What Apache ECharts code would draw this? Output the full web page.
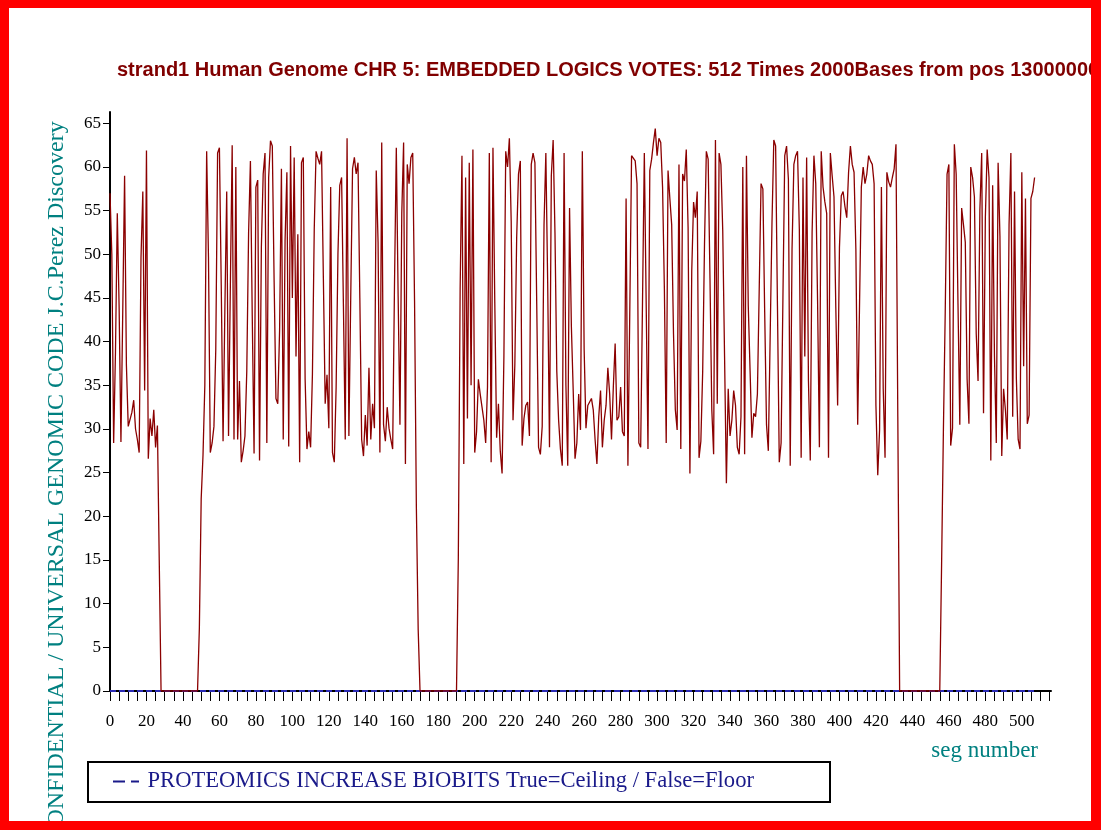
<!DOCTYPE html>
<html>
<head>
<meta charset="utf-8">
<script src="https://cdn.jsdelivr.net/npm/echarts@6/dist/echarts.min.js"></script>
<style>
  html, body { margin: 0; padding: 0; background: #fff; }
  #chart { width: 1101px; height: 830px; }
</style>
</head>
<body>
<div id="chart"></div>
<script>
// Votes per 2000-base segment (segment 0 .. 507)
const segVotes = [
  57, 50, 28.4, 38.8, 54.7, 44, 28.5, 43.6, 59, 37.3, 30.3, 30.5, 31.9, 33.3, 30, 28.8, 27.3, 49.6, 57.2, 34.4,
  61.9, 26.6, 31.2, 29.2, 32.2, 27.9, 30.4, 15, 0, 0, 0, 0, 0, 0, 0, 0, 0, 0, 0, 0,
  0, 0, 0, 0, 0, 0, 0, 0, 0, 7.2, 22, 27, 35, 61.8, 49.7, 27.3, 28.4, 30.3, 39.1, 61.6,
  62.2, 46.5, 28.6, 43.9, 57.2, 29.2, 46.5, 62.5, 28.8, 60, 28.8, 35.5, 26.2, 27.5, 29.2, 36.6, 52.5, 60.7, 43, 27.2,
  57.7, 58.5, 26.4, 50.8, 59.2, 61.6, 28.4, 58.8, 63, 62.4, 46.9, 33.5, 32.9, 41.3, 59.8, 28.8, 51.6, 59.4, 28, 62.4,
  45, 61.1, 38.3, 52.3, 26.2, 60.5, 61.1, 35.7, 27.7, 29.7, 27.9, 36.3, 52.9, 61.8, 61, 60.3, 61.8, 47.3, 32.9, 36.2,
  30.1, 57.7, 27.3, 26.2, 34.8, 50.1, 57.9, 58.8, 44.1, 28.8, 63.3, 29.2, 45, 59.8, 61.1, 59.2, 60.5, 45, 28.8, 26.9,
  31.6, 28.1, 37, 28.8, 32.9, 30.1, 59.6, 51.4, 27.3, 62.8, 30.5, 28.6, 32.5, 30.1, 28.8, 27.7, 46.5, 62.2, 45.2, 30.5,
  54.7, 62.8, 26, 60.3, 58.1, 61.1, 61.6, 44.7, 21, 7, 0, 0, 0, 0, 0, 0, 0, 0, 0, 0,
  0, 0, 0, 0, 0, 0, 0, 0, 0, 0, 0, 15.2, 46, 61.3, 26, 58.8, 31.2, 60.5, 35, 62,
  27.3, 29.7, 35.7, 34, 32.5, 31, 28.4, 34.8, 61.6, 26.2, 62.2, 44.5, 29, 32.9, 27.5, 24.9, 38.3, 61.8, 60, 63.3,
  53.8, 31, 37.4, 51.9, 59.2, 60.7, 28.1, 31.2, 32.7, 33.1, 29.2, 60.3, 61.6, 60.5, 44.3, 27.9, 27.1, 30.3, 53.4, 61.6,
  46.8, 27.9, 59, 63.1, 52.5, 36.6, 31, 27.7, 25.8, 61.6, 35, 25.8, 55.3, 41.7, 34.4, 26.6, 28.4, 34, 29.9, 61.8,
  39.1, 30.1, 32.7, 32.7, 33.5, 32.2, 28.8, 26, 31.4, 34.4, 27.9, 31, 32.7, 37, 34, 28.8, 34.8, 39.8, 31, 31.4,
  34.8, 29.7, 29.2, 56.4, 25.8, 43, 61.3, 61.1, 60.7, 58.1, 28.4, 27.9, 44.5, 61.6, 61.8, 27.7, 59.6, 60.9, 62.8, 64.4,
  61.3, 63.3, 62.8, 57.7, 46, 28.4, 59.6, 56.4, 53.4, 40.9, 32.2, 29.9, 60.3, 27.7, 59.2, 58.4, 62, 53.1, 24.9, 48.1,
  56, 54.2, 57.2, 26.7, 28.6, 36.6, 51.2, 61.8, 60.9, 47.3, 32.2, 27.1, 63.1, 32.9, 61.6, 60.3, 52.7, 38.3, 23.8, 34.6,
  29.2, 31, 34.4, 32.7, 27.9, 27.1, 31.4, 60, 27.1, 61.3, 44.1, 36.6, 29, 31.8, 31.4, 34, 46, 58.1, 57.5, 43.4,
  30.5, 27.5, 27.5, 53.6, 63.1, 62.4, 44.1, 26.2, 28.4, 45, 61.3, 62.4, 58.6, 25.8, 50.6, 60.3, 61.3, 61.8, 52.9, 26.7,
  58.8, 38.3, 61.1, 35.5, 26.4, 52.5, 61.3, 58.1, 44.7, 27.9, 61.8, 57.7, 56, 54.7, 26.7, 61.6, 59, 56.6, 43.9, 32.7,
  50.8, 56.7, 57.2, 55.5, 54.2, 59.4, 62.4, 60.3, 59.4, 50.6, 30.5, 44.1, 57.7, 60, 58.1, 59.2, 61.3, 60.7, 60.3, 58.1,
  32.7, 24.7, 29.9, 57.7, 34.6, 26.7, 59.4, 58.3, 57.7, 58.8, 59.8, 62.6, 31.4, 0, 0, 0, 0, 0, 0, 0,
  0, 0, 0, 0, 0, 0, 0, 0, 0, 0, 0, 0, 0, 0, 0, 0, 14.4, 29.9, 43.4, 59.2,
  60.3, 28.1, 30.1, 62.6, 59.2, 44.3, 30.5, 55.3, 53.4, 51.4, 35.7, 30.6, 60, 58.8, 56.6, 40.9, 35.5, 55.1, 61.6, 31.8,
  54.2, 62, 58.8, 26.4, 57.9, 38.3, 28.4, 60.5, 52.1, 26.9, 34.6, 32.2, 28.8, 53.4, 61.6, 31.4, 57.2, 35.8, 28.8, 27.7,
  59.4, 37.2, 56.4, 30.6, 31.6, 56.4, 57.2, 58.8
];

// Proteomics increase flag per segment: '1' = True (Ceiling), '0' = False (Floor)
const proteomicsFlags = [
  '0000000000000000000000000000000000000000000000000000000000000000',
  '0000000000000000000000000000000000000000000000000000000000000000',
  '0000000000000000000000000000000000000000000000000000000000000000',
  '0000000000000000000000000000000000000000000000000000000000000000',
  '0000000000000000000000000000000000000000000000000000000000000000',
  '0000000000000000000000000000000000000000000000000000000000000000',
  '0000000000000000000000000000000000000000000000000000000000000000',
  '000000000000000000000000000000000000000000000000000000000000'
].join('');

const CEILING = 65;
const FLOOR = 0;

const xLabelValues = [0, 20, 40, 60, 80, 100, 120, 140, 160, 180, 200, 220, 240, 260, 280,
  300, 320, 340, 360, 380, 400, 420, 440, 460, 480, 500];
const yTickValues = [0, 5, 10, 15, 20, 25, 30, 35, 40, 45, 50, 55, 60, 65];

const titleText = 'strand1 Human Genome CHR 5: EMBEDDED LOGICS VOTES: 512 Times 2000Bases from pos 13000000';
const yName = 'CONFIDENTIAL / UNIVERSAL GENOMIC CODE J.C.Perez Discovery';
const xName = 'seg number';
const legendName = 'PROTEOMICS INCREASE BIOBITS True=Ceiling / False=Floor';

// minor ticks every 5 segments along the bottom axis
const xTickValues = [];
for (let v = 0; v <= 515; v += 5) xTickValues.push(v);

const voteData = segVotes.map((v, i) => [i, v]);
const flagData = proteomicsFlags.split('').map((c, i) => [i, c === '1' ? CEILING : FLOOR]);

const serif = "'Liberation Serif', 'DejaVu Serif', serif";
const sans = "'Liberation Sans', Arial, sans-serif";

const chart = echarts.init(document.getElementById('chart'), null, { renderer: 'canvas' });

const option = {
  animation: false,
  backgroundColor: '#ffffff',
  title: {
    text: titleText,
    left: 117,
    top: 60,
    padding: 0,
    textStyle: { fontFamily: sans, fontWeight: 'bold', fontSize: 20, color: '#800000' }
  },
  grid: { left: 110, top: 112, right: 50, bottom: 139 },
  xAxis: {
    type: 'value',
    min: 0,
    max: 516,
    axisLine: { show: true, lineStyle: { color: '#000', width: 2 } },
    axisTick: { show: true, customValues: xTickValues, length: 10, lineStyle: { color: '#000', width: 1 } },
    axisLabel: {
      customValues: xLabelValues, margin: 22,
      fontFamily: serif, fontSize: 17, color: '#000'
    },
    splitLine: { show: false }
  },
  yAxis: {
    type: 'value',
    min: 0,
    max: 66.3,
    axisLine: { show: true, lineStyle: { color: '#000', width: 2 } },
    axisTick: { show: true, customValues: yTickValues, length: 7, lineStyle: { color: '#000', width: 1 } },
    axisLabel: {
      customValues: yTickValues, margin: 9,
      fontFamily: serif, fontSize: 17, color: '#000'
    },
    splitLine: { show: false }
  },
  legend: {
    data: [legendName],
    left: 113,
    top: 770,
    padding: 0,
    itemWidth: 29,
    itemHeight: 2,
    itemGap: 0,
    icon: 'path://M0,0H12V2H0Z M18,0H26V2H18Z',
    itemStyle: { color: '#1a1a8a' },
    textStyle: { fontFamily: serif, fontSize: 22.6, color: '#1a1a8a', padding: [0, 0, 0, 2] },
    z: 5
  },
  graphic: [
    {
      type: 'rect', z: 1,
      shape: { x: 88, y: 762, width: 742, height: 40 },
      style: { fill: '#fff', stroke: '#000', lineWidth: 2 }
    },
    {
      type: 'text', z: 2,
      x: 57, y: 482, rotation: Math.PI / 2,
      style: {
        text: yName, fontFamily: serif, fontSize: 24, fill: '#008080',
        align: 'center', verticalAlign: 'middle'
      }
    },
    {
      type: 'text', z: 2,
      x: 1038, y: 751,
      style: {
        text: xName, fontFamily: serif, fontSize: 23, fill: '#008080',
        align: 'right', verticalAlign: 'middle'
      }
    },
    // red frame round the page
    { type: 'rect', z: 100, shape: { x: 0, y: 0, width: 1101, height: 8 }, style: { fill: '#ff0000' } },
    { type: 'rect', z: 100, shape: { x: 0, y: 821, width: 1101, height: 9 }, style: { fill: '#ff0000' } },
    { type: 'rect', z: 100, shape: { x: 0, y: 0, width: 9, height: 830 }, style: { fill: '#ff0000' } },
    { type: 'rect', z: 100, shape: { x: 1091, y: 0, width: 10, height: 830 }, style: { fill: '#ff0000' } }
  ],
  series: [
    {
      name: legendName,
      type: 'line',
      data: flagData,
      symbol: 'none',
      lineStyle: { color: '#2b2bb5', width: 2, type: [6, 3] },
      z: 3
    },
    {
      name: 'votes',
      type: 'line',
      data: voteData,
      symbol: 'none',
      lineStyle: { color: '#8b0000', width: 1.3 },
      z: 4
    }
  ]
};

chart.setOption(option);
</script>
</body>
</html>
